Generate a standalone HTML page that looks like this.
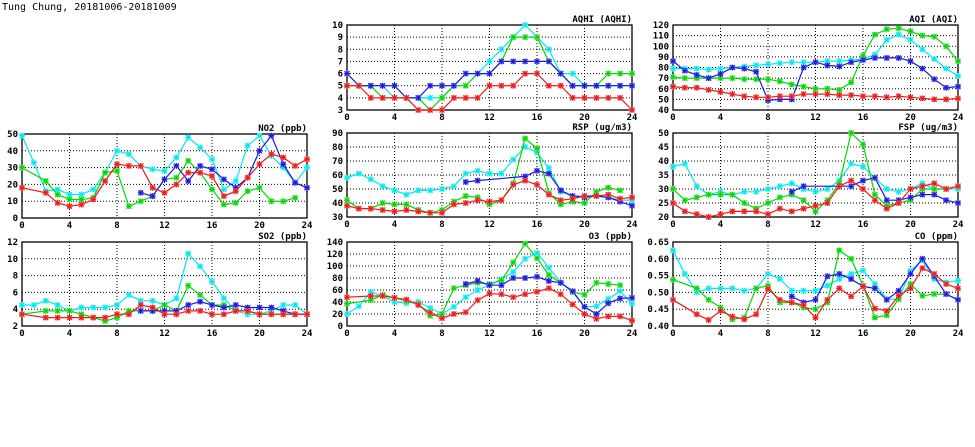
<!DOCTYPE html>
<html><head><meta charset="utf-8"><style>
html,body{margin:0;padding:0;background:#fff;width:975px;height:447px;overflow:hidden}
svg text{font-family:"DejaVu Sans Mono","Liberation Mono",monospace;font-size:9px;font-weight:bold;fill:#000}
</style></head><body>
<svg id="s" width="975" height="447" xmlns="http://www.w3.org/2000/svg">
<text x="2" y="10" style="font-size:10px;font-weight:normal">Tung Chung, 20181006-20181009</text>
</svg>
<script>
var N=null;
var panels=[
{t:"AQHI (AQHI)",x:347,y0:25,y1:110,min:3,max:10,step:1,dec:0,d:{
c:[5,5,5,5,4,4,4,4,4,5,6,6,7,8,9,10,9,8,6,6,5,5,5,5,5],
g:[5,5,5,4,4,4,4,3,4,5,5,6,6,7,9,9,9,7,6,5,5,5,6,6,6],
b:[6,5,5,5,5,4,4,5,5,5,6,6,6,7,7,7,7,7,6,5,5,5,5,5,5],
r:[5,5,4,4,4,4,3,3,3,4,4,4,5,5,5,6,6,5,5,4,4,4,4,4,3]}},
{t:"AQI (AQI)",x:673,y0:25,y1:110,min:40,max:120,step:10,dec:0,d:{
c:[79,79,79,78,79,80,81,82,83,84,85,85,85,86,86,87,88,92,106,111,106,97,88,79,72],
g:[71,70,70,70,70,70,69,69,69,67,64,62,60,60,59,66,91,111,116,117,114,110,109,100,86],
b:[86,77,73,70,74,80,79,76,49,50,50,80,85,82,81,85,87,89,89,89,86,79,69,61,62],
r:[62,61,61,59,57,55,53,52,52,53,53,55,55,55,54,54,53,53,52,53,52,51,50,50,51]}},
{t:"NO2 (ppb)",x:22,y0:134,y1:218,min:0,max:50,step:10,dec:0,d:{
c:[49,33,16,17,14,14,17,27,40,38,31,29,28,36,48,42,35,17,22,43,49,37,30,21,30],
g:[30,N,22,14,11,11,12,27,28,7,10,13,23,24,34,27,17,8,9,16,18,10,10,12,N],
b:[N,N,N,N,N,N,N,N,N,N,15,13,23,31,22,31,29,23,18,24,40,49,32,21,18],
r:[18,N,15,9,7,8,11,22,32,31,31,18,15,20,27,27,25,13,16,24,32,38,36,31,35]}},
{t:"RSP (ug/m3)",x:347,y0:133,y1:217,min:30,max:90,step:10,dec:0,d:{
c:[58,61,57,52,49,46,49,49,50,52,61,63,61,61,71,80,76,65,48,45,45,45,44,42,42],
g:[42,36,36,40,39,39,35,33,35,41,45,44,39,42,54,86,79,47,39,41,40,48,51,49,N],
b:[N,N,N,N,N,N,N,N,N,N,55,56,N,N,N,59,63,61,49,45,44,45,44,41,38],
r:[38,36,36,35,34,35,34,33,33,39,40,42,41,42,53,56,53,46,42,43,45,45,46,43,44]}},
{t:"FSP (ug/m3)",x:673,y0:133,y1:217,min:20,max:50,step:5,dec:0,d:{
c:[38,39,31,28,29,28,29,29,30,31,32,30,29,30,33,39,38,34,30,29,30,32,30,30,30],
g:[30,26,27,28,28,28,25,23,25,27,28,26,22,26,32,50,46,28,24,25,26,30,30,30,31],
b:[N,N,N,N,N,N,N,N,N,N,29,31,N,N,31,31,33,34,26,26,27,28,28,26,25],
r:[25,22,21,20,21,22,22,22,21,23,22,23,24,25,31,33,30,26,23,25,30,31,32,30,31]}},
{t:"SO2 (ppb)",x:22,y0:242,y1:326,min:2,max:12,step:2,dec:0,d:{
c:[4.5,4.5,5,4.5,3.8,4.2,4.2,4.2,4.5,5.7,5,5,4.5,5.3,10.6,9.1,7.3,5.3,3.8,3.4,3.4,3.8,4.5,4.5,3.4],
g:[3.4,N,3.8,3.8,3.8,3.4,3,2.6,3,3.8,3.8,3.8,4.5,3.8,6.8,5.7,4.5,4.5,3.8,3.8,3.4,3.4,3.4,3.4,3.4],
b:[N,N,N,N,N,N,N,N,N,N,3.8,3.8,3.8,3.8,4.5,4.9,4.5,4.2,4.5,4.2,4.2,4.2,3.8,3.4,3.4],
r:[3.4,N,3,3,3,3,3,3,3.4,3.4,4.5,4.2,3.4,3.4,3.8,3.8,3.4,3.4,3.8,3.8,3.4,3.4,3.4,3.4,3.4]}},
{t:"O3 (ppb)",x:347,y0:242,y1:326,min:0,max:140,step:20,dec:0,d:{
c:[20,33,57,50,40,38,40,30,20,32,48,60,68,78,90,112,122,97,73,57,32,33,45,58,37],
g:[37,N,43,52,47,42,37,17,20,63,68,72,70,76,106,137,113,85,72,57,52,72,70,68,N],
b:[N,N,N,N,N,N,N,N,N,N,70,75,68,68,80,80,82,75,72,58,32,20,38,46,47],
r:[48,N,50,50,47,44,35,22,13,20,23,43,54,53,48,53,57,63,53,36,20,12,16,16,9]}},
{t:"CO (ppm)",x:673,y0:242,y1:326,min:0.40,max:0.65,step:0.05,dec:2,d:{
c:[.625,.555,.5,.512,.512,.512,.505,.512,.555,.54,.505,.505,.505,.52,.54,.555,.565,.525,.48,.48,.565,.595,.54,.53,.535],
g:[.538,N,.512,.478,.455,.42,.425,.512,.52,.47,.47,.455,.45,.47,.625,.6,.52,.425,.432,.48,.525,.49,.495,.495,N],
b:[N,N,N,N,N,N,N,N,N,N,.488,.47,.478,.548,.555,.54,.518,.512,.478,.505,.555,.6,.548,.495,.478],
r:[.478,N,.435,.418,.445,.428,.42,.435,.51,.478,.47,.462,.425,.478,.512,.488,.518,.452,.445,.49,.512,.572,.555,.525,.512]}}
];
var cols={c:["#00e8f0","#a0f4f8"],g:["#00d800","#98ec98"],b:["#1818e0","#8c8cf0"],r:["#f01818","#f49090"]};
var s=document.getElementById("s"),h="";
panels.forEach(function(p){
 var W=285,x0=p.x,x1=p.x+W,y0=p.y0,y1=p.y1;
 function X(i){return x0+i*W/24}
 function Y(v){return y1-(v-p.min)/(p.max-p.min)*(y1-y0)}
 var n=Math.round((p.max-p.min)/p.step);
 for(var k=0;k<=n;k++){var v=p.min+k*p.step,y=Y(v);
  if(k>0&&k<n)h+='<line x1="'+x0+'" x2="'+x1+'" y1="'+y+'" y2="'+y+'" stroke="#000" stroke-width="1" stroke-dasharray="1,2"/>';
  h+='<text x="'+(x0-4)+'" y="'+(y+3)+'" text-anchor="end">'+v.toFixed(p.dec)+'</text>';}
 for(var i=0;i<=24;i+=4){var x=X(i);
  if(i>0&&i<24)h+='<line x1="'+x+'" x2="'+x+'" y1="'+y0+'" y2="'+y1+'" stroke="#000" stroke-width="1" stroke-dasharray="1,2"/>';
  h+='<text x="'+x+'" y="'+(y1+10)+'" text-anchor="middle">'+i+'</text>';}
 h+='<rect x="'+x0+'" y="'+y0+'" width="'+W+'" height="'+(y1-y0)+'" fill="none" stroke="#000" stroke-width="1.3"/>';
 h+='<text x="'+x1+'" y="'+(y0-3)+'" text-anchor="end">'+p.t+'</text>';
 ["c","g","b","r"].forEach(function(k){var a=p.d[k],pts=[],m="";
  a.forEach(function(v,i){if(v!==null){var x=X(i),y=Y(v);pts.push(x.toFixed(1)+","+y.toFixed(1));
   m+='<rect x="'+(x-2.5)+'" y="'+(y-2.5)+'" width="5" height="5" fill="'+cols[k][1]+'"/>'+
   '<path d="M'+(x-2.5)+' '+(y-2.5)+'l5 5M'+(x+2.5)+' '+(y-2.5)+'l-5 5M'+(x-3)+' '+y+'h6M'+x+' '+(y-3)+'v6" stroke="'+cols[k][0]+'" stroke-width="1"/>';}});
  h+='<polyline points="'+pts.join(" ")+'" fill="none" stroke="'+cols[k][0]+'" stroke-width="1.2"/>'+m;});
});
s.insertAdjacentHTML("beforeend",h);
</script>
</body></html>
